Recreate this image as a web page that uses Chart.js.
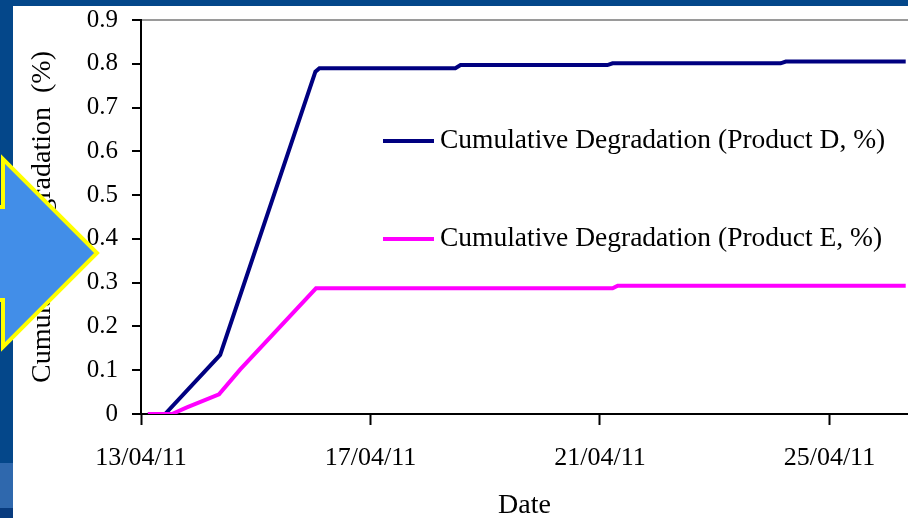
<!DOCTYPE html>
<html>
<head>
<meta charset="utf-8">
<script src="https://cdn.jsdelivr.net/npm/chart.js@4.4.1/dist/chart.umd.min.js"></script>
<style>
    html, body { margin: 0; padding: 0; background: #fff; overflow: hidden; }
    canvas { display: block; }
</style>
</head>
<body>
<canvas id="degradationChart" width="908" height="518"></canvas>
<script>
// x = days since 13/04/11
const tickDays = [0, 4, 8, 12];
const tickLabels = ['13/04/11', '17/04/11', '21/04/11', '25/04/11'];

const productDDays = [0.12, 0.42, 1.38, 3.04, 3.11, 5.48, 5.57, 8.13, 8.22, 11.15, 11.24, 13.33];
const productDValues = [0, 0, 0.135, 0.782, 0.79, 0.79, 0.797, 0.797, 0.801, 0.801, 0.805, 0.805];

const productEDays = [0.12, 0.54, 0.80, 1.36, 1.73, 3.05, 3.12, 8.22, 8.31, 13.33];
const productEValues = [0, 0, 0.015, 0.045, 0.102, 0.287, 0.287, 0.287, 0.293, 0.293];

const serif = "'Liberation Serif', 'Times New Roman', serif";

function toPoints(days, values) {
    return days.map((d, i) => ({ x: d, y: values[i] }));
}

// slide background bands
const slideBackground = {
    id: 'slideBackground',
    beforeDraw(chart) {
        const ctx = chart.ctx;
        ctx.save();
        ctx.fillStyle = '#ffffff';
        ctx.fillRect(0, 0, chart.width, chart.height);
        ctx.fillStyle = '#04478a';
        ctx.fillRect(0, 0, chart.width, 6);
        ctx.fillRect(0, 0, 13, chart.height);
        ctx.fillStyle = '#2f68ad';
        ctx.fillRect(0, 463, 13, 45);
        ctx.fillStyle = '#083b7e';
        ctx.fillRect(0, 508, 13, 10);
        ctx.restore();
    }
};

// legend drawn inside the plot area
const insideLegend = {
    id: 'insideLegend',
    afterDatasetsDraw(chart) {
        const ctx = chart.ctx;
        chart.data.datasets.forEach((ds, i) => {
            const y = 141 + i * 98;
            ctx.save();
            ctx.strokeStyle = ds.borderColor;
            ctx.lineWidth = 4;
            ctx.beginPath();
            ctx.moveTo(383, y);
            ctx.lineTo(434, y);
            ctx.stroke();
            ctx.fillStyle = '#000';
            ctx.font = '27.5px ' + serif;
            ctx.textBaseline = 'middle';
            ctx.fillText(ds.label, 440, y);
            ctx.restore();
        });
    }
};

// the blue arrow from the slide, lying over the axis title
const slideArrow = {
    id: 'slideArrow',
    afterDraw(chart) {
        const ctx = chart.ctx;
        ctx.save();
        ctx.beginPath();
        ctx.moveTo(-20, 207);
        ctx.lineTo(3, 207);
        ctx.lineTo(3, 159);
        ctx.lineTo(97, 253);
        ctx.lineTo(3, 347);
        ctx.lineTo(3, 300);
        ctx.lineTo(-20, 300);
        ctx.closePath();
        ctx.fillStyle = '#428ee8';
        ctx.fill();
        ctx.lineWidth = 4;
        ctx.lineJoin = 'miter';
        ctx.strokeStyle = '#ffff00';
        ctx.stroke();
        ctx.restore();
    }
};

new Chart(document.getElementById('degradationChart'), {
    type: 'line',
    data: {
        datasets: [{
            label: 'Cumulative Degradation (Product D, %)',
            data: toPoints(productDDays, productDValues),
            borderColor: '#000080',
            borderWidth: 4,
            pointRadius: 0,
            tension: 0,
            order: 2
        }, {
            label: 'Cumulative Degradation (Product E, %)',
            data: toPoints(productEDays, productEValues),
            borderColor: '#ff00ff',
            borderWidth: 4,
            pointRadius: 0,
            tension: 0,
            order: 1
        }]
    },
    options: {
        responsive: false,
        animation: false,
        devicePixelRatio: 1,
        layout: { padding: { top: 20, right: 0, bottom: 0, left: 0 } },
        plugins: {
            legend: { display: false },
            tooltip: { enabled: false }
        },
        scales: {
            x: {
                type: 'linear',
                min: 0,
                max: 13.37,
                afterBuildTicks: scale => { scale.ticks = tickDays.map(v => ({ value: v })); },
                afterFit: scale => { scale.height = 104; },
                ticks: {
                    callback: (value, index) => tickLabels[index],
                    font: { family: serif, size: 26 },
                    color: '#000',
                    padding: 18,
                    maxRotation: 0,
                    autoSkip: false
                },
                grid: {
                    drawOnChartArea: false,
                    tickLength: 11,
                    tickColor: '#000',
                    tickWidth: 2
                },
                border: { color: '#000', width: 2 },
                title: {
                    display: true,
                    text: 'Date',
                    color: '#000',
                    font: { family: serif, size: 28, lineHeight: 0.85 },
                    padding: 0
                }
            },
            y: {
                min: 0,
                max: 0.9,
                afterFit: scale => {
                    scale.width = 141;
                    scale.paddingTop = 0;
                },
                ticks: {
                    stepSize: 0.1,
                    callback: value => String(Math.round(value * 10) / 10),
                    font: { family: serif, size: 25 },
                    color: '#000',
                    padding: 14
                },
                grid: {
                    color: c => (c.tick && Math.abs(c.tick.value - 0.9) < 1e-6) ? '#9a9a9a' : 'rgba(0,0,0,0)',
                    lineWidth: 2,
                    tickLength: 9,
                    tickColor: '#000',
                    tickWidth: 2
                },
                border: { color: '#000', width: 2 },
                title: {
                    display: true,
                    text: 'Cumulative Degradation  (%)',
                    color: '#000',
                    font: { family: serif, size: 28 },
                    padding: { top: 26, bottom: 0 }
                }
            }
        }
    },
    plugins: [slideBackground, insideLegend, slideArrow]
});
</script>
</body>
</html>
